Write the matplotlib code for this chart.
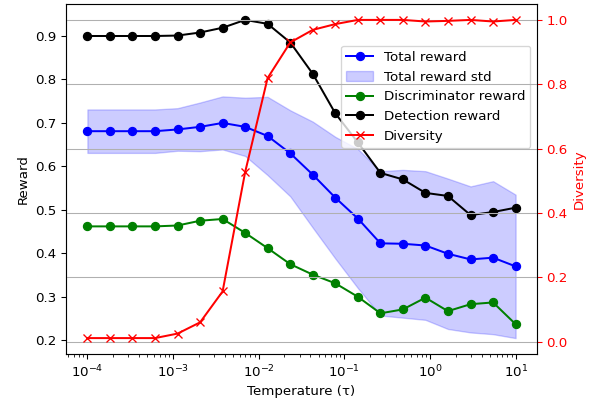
import matplotlib
matplotlib.use("Agg")
import matplotlib.pyplot as plt

temperature = [1.00e-4, 1.83e-4, 3.36e-4, 6.16e-4, 1.13e-3, 2.07e-3, 3.79e-3,
               6.95e-3, 1.27e-2, 2.34e-2, 4.28e-2, 7.85e-2, 1.44e-1, 2.64e-1,
               4.83e-1, 8.86e-1, 1.62, 2.98, 5.46, 10.0]

total_reward = [0.681, 0.681, 0.681, 0.681, 0.685, 0.691, 0.700, 0.691, 0.670, 0.630,
                0.581, 0.528, 0.480, 0.423, 0.422, 0.418, 0.399, 0.386, 0.390, 0.370]
total_std = [0.050, 0.050, 0.050, 0.050, 0.049, 0.056, 0.061, 0.067, 0.090, 0.099,
             0.122, 0.140, 0.160, 0.166, 0.170, 0.171, 0.173, 0.168, 0.176, 0.165]
disc_reward = [0.462, 0.462, 0.462, 0.462, 0.464, 0.475, 0.479, 0.447, 0.412, 0.375,
               0.351, 0.331, 0.300, 0.262, 0.271, 0.298, 0.267, 0.283, 0.287, 0.237]
det_reward = [0.900, 0.900, 0.900, 0.900, 0.901, 0.908, 0.919, 0.937, 0.928, 0.885,
              0.813, 0.722, 0.655, 0.585, 0.570, 0.539, 0.532, 0.488, 0.495, 0.505]
diversity = [0.011, 0.011, 0.011, 0.011, 0.025, 0.060, 0.156, 0.527, 0.819, 0.930,
             0.969, 0.987, 1.000, 1.000, 1.000, 0.995, 0.997, 1.000, 0.995, 1.000]

lower = [m - s for m, s in zip(total_reward, total_std)]
upper = [m + s for m, s in zip(total_reward, total_std)]

DPI = 96
fig = plt.figure(figsize=(596 / DPI, 404 / DPI), dpi=DPI)
ax1 = fig.add_axes([66/596, 1-354/404, 471/596, 350/404])

l1, = ax1.plot(temperature, total_reward, 'o-', color='blue', label='Total reward')
f1 = ax1.fill_between(temperature, lower, upper, color='blue', alpha=0.2, label='Total reward std')
l2, = ax1.plot(temperature, disc_reward, 'o-', color='green', label='Discriminator reward')
l3, = ax1.plot(temperature, det_reward, 'o-', color='black', label='Detection reward')
ax1.set_xscale('log')
ax1.set_xlabel('Temperature (τ)')
ax1.set_ylabel('Reward')

ax2 = ax1.twinx()
l4, = ax2.plot(temperature, diversity, 'x-', color='red', label='Diversity')
ax2.set_ylabel('Diversity', color='red')
ax2.tick_params(axis='y', colors='red')
ax2.grid(True)

handles = [l1, f1, l2, l3, l4]
ax1.legend(handles, [h.get_label() for h in handles], loc='upper right',
           bbox_to_anchor=(1.0, 0.9))

fig.savefig('out.png', dpi=DPI)
